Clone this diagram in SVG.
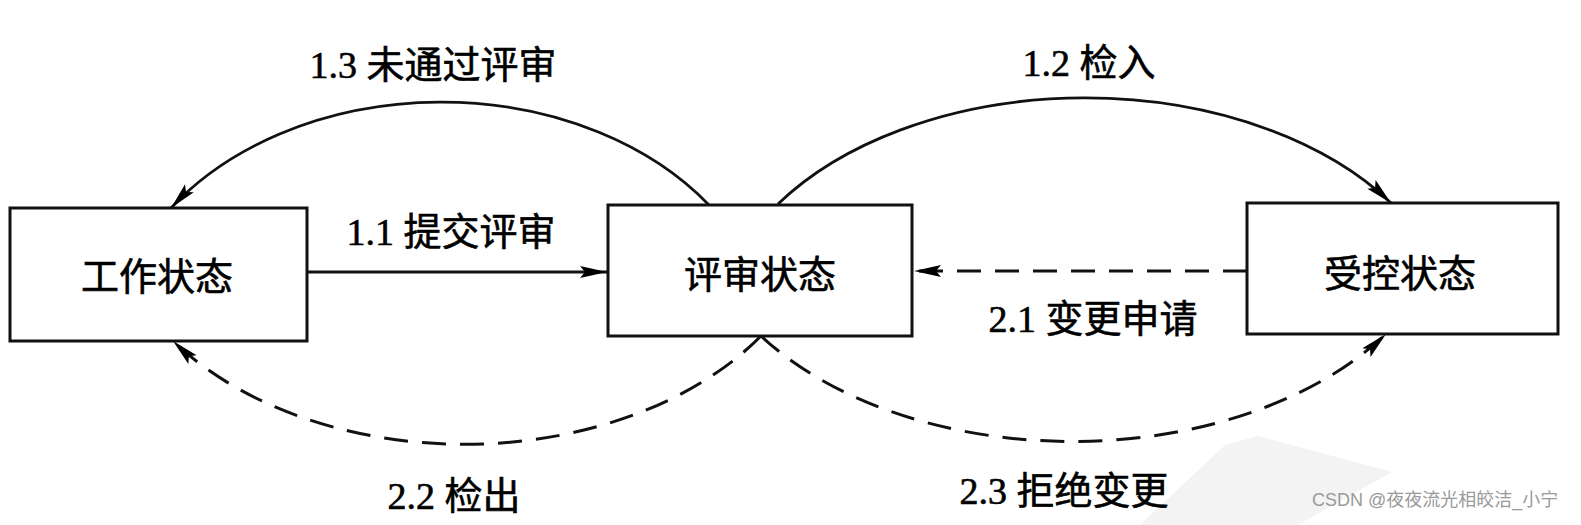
<svg xmlns="http://www.w3.org/2000/svg" width="1581" height="525" viewBox="0 0 1581 525">
<style>
.box{fill:#fff;stroke:#111;stroke-width:3}
.lbl{font-family:"Liberation Serif","Noto Sans CJK SC",serif;font-size:38px;fill:#000;stroke:#000;stroke-width:0.6;text-anchor:middle}
.solid{fill:none;stroke:#111;stroke-width:2.8}
.dash{fill:none;stroke:#111;stroke-width:3;stroke-dasharray:24 14}
.wm{font-family:"Liberation Sans","Noto Sans CJK SC",sans-serif;font-size:18px;fill:#9a9a9a}
</style>
<defs>
<marker id="ah" markerUnits="userSpaceOnUse" markerWidth="30" markerHeight="16" refX="27" refY="7" orient="auto">
<path d="M0,1 L27,7 L0,13 L5,7 Z" fill="#000"/>
</marker>
</defs>
<rect width="1581" height="525" fill="#fff"/>
<polygon points="1140,525 1225,445 1258,436 1392,472 1298,525" fill="#f3f3f3"/>
<g id="connectors">
<path class="solid" d="M709,205 A330,248 0 0 0 171,208" marker-end="url(#ah)"/>
<path class="solid" d="M778,204 A370,240 0 0 1 1391,203" marker-end="url(#ah)"/>
<line class="solid" x1="307" y1="272" x2="607" y2="272" marker-end="url(#ah)"/>
<line class="dash" x1="1247" y1="271" x2="914" y2="271" marker-end="url(#ah)"/>
<path class="dash" d="M761,336 A360,250 0 0 1 173,341" marker-end="url(#ah)"/>
<path class="dash" d="M761,336 A380,247 0 0 0 1386,334" marker-end="url(#ah)"/>
</g>
<g id="labels">
<text class="lbl" x="433" y="78">1.3 未通过评审</text>
<text class="lbl" x="1089" y="76">1.2 检入</text>
<text class="lbl" x="451" y="245">1.1 提交评审</text>
<text class="lbl" x="1093" y="332">2.1 变更申请</text>
<text class="lbl" x="454" y="509">2.2 检出</text>
<text class="lbl" x="1064" y="504">2.3 拒绝变更</text>
</g>
<g id="node-work">
<rect class="box" x="10" y="208" width="297" height="133"/>
<text class="lbl" x="157" y="290">工作状态</text>
</g>
<g id="node-review">
<rect class="box" x="608" y="205" width="304" height="131"/>
<text class="lbl" x="760" y="288">评审状态</text>
</g>
<g id="node-controlled">
<rect class="box" x="1247" y="203" width="311" height="131"/>
<text class="lbl" x="1400" y="287">受控状态</text>
</g>
<text class="wm" x="1312" y="506">CSDN @夜夜流光相皎洁_小宁</text>
</svg>
